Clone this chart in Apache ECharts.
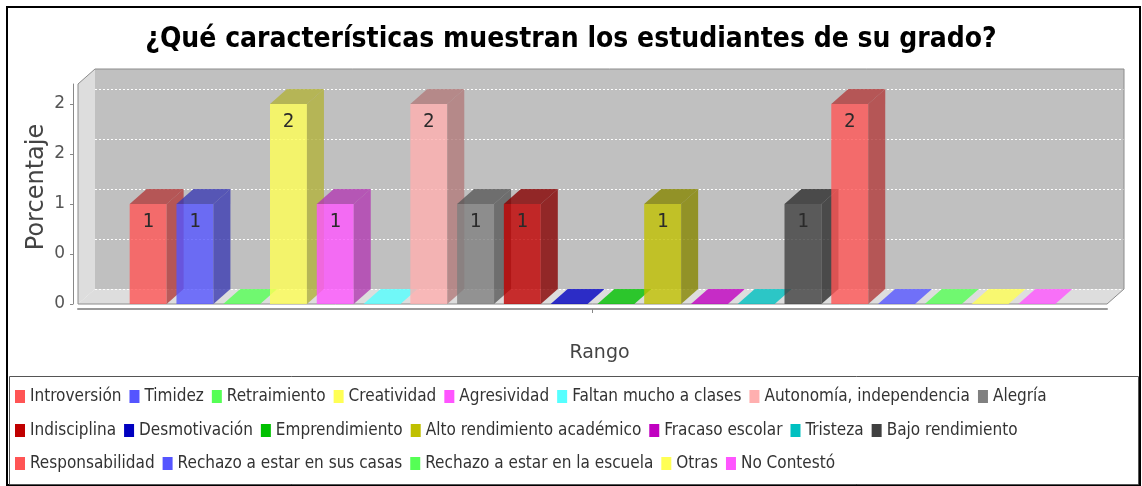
<!DOCTYPE html>
<html>
<head>
<meta charset="utf-8">
<title>¿Qué características muestran los estudiantes de su grado?</title>
<script src="https://cdn.jsdelivr.net/npm/echarts@6/dist/echarts.min.js"></script>
<style>
  html, body { margin: 0; padding: 0; background: #ffffff; }
  #chart { width: 1142px; height: 486px; }
</style>
</head>
<body>
<div id="chart"></div>
<script>
// Survey answers: one bar per characteristic
const categories = [
  'Introversión', 'Timidez', 'Retraimiento', 'Creatividad', 'Agresividad',
  'Faltan mucho a clases', 'Autonomía, independencia', 'Alegría',
  'Indisciplina', 'Desmotivación', 'Emprendimiento', 'Alto rendimiento académico',
  'Fracaso escolar', 'Tristeza', 'Bajo rendimiento',
  'Responsabilidad', 'Rechazo a estar en sus casas', 'Rechazo a estar en la escuela',
  'Otras', 'No Contestó'
];
const values = [1, 1, 0, 2, 1, 0, 2, 1, 1, 0, 0, 1, 0, 0, 1, 2, 0, 0, 0, 0];
const colors = [
  '#FF5555', '#5555FF', '#55FF55', '#FFFF55', '#FF55FF', '#55FFFF', '#FFAFAF', '#808080',
  '#C00000', '#0000C0', '#00C000', '#C0C000', '#C000C0', '#00C0C0', '#404040',
  '#FF5555', '#5555FF', '#55FF55', '#FFFF55', '#FF55FF'
];
// value-axis ticks and the (integer-rounded) labels printed beside them
const yTicks = [0, 0.5, 1, 1.5, 2];
const yTickLabels = ['0', '0', '1', '2', '2'];
// legend rows: first and last category index of each row
const legendRows = [[0, 7], [8, 14], [15, 19]];

// 3D look: depth offset of the back plane, bar width in category units
const DX = 17, DY = -15;
const BAR_W = 0.79;
const ALPHA = 0.8;

function shade(hex, factor, alpha) {
  const n = parseInt(hex.slice(1), 16);
  const r = Math.floor(((n >> 16) & 255) * factor);
  const g = Math.floor(((n >> 8) & 255) * factor);
  const b = Math.floor((n & 255) * factor);
  return 'rgba(' + r + ',' + g + ',' + b + ',' + alpha + ')';
}

// back wall, side wall, floor and the dashed grid lines on the back wall
function renderWalls(params, api) {
  const cs = params.coordSys;
  const L = cs.x, R = cs.x + cs.width, T = cs.y, B = cs.y + cs.height;
  const children = [];
  children.push({ type: 'rect', shape: { x: L + DX, y: T + DY, width: R - L, height: B - T }, style: { fill: '#C0C0C0' } });
  children.push({ type: 'polygon', shape: { points: [[L, T], [L + DX, T + DY], [L + DX, B + DY], [L, B]] }, style: { fill: '#DDDDDD' } });
  children.push({ type: 'polygon', shape: { points: [[L, B], [L + DX, B + DY], [R + DX, B + DY], [R, B]] }, style: { fill: '#DDDDDD' } });
  yTicks.forEach(function (t) {
    const y = Math.round(api.coord([-1.5, t])[1] + DY) + 0.5;
    children.push({ type: 'line', shape: { x1: L + DX, y1: y, x2: R + DX, y2: y }, style: { stroke: '#FFFFFF', lineWidth: 1, lineDash: [2, 2] } });
  });
  children.push({
    type: 'polyline',
    shape: { points: [[L, B], [L, T], [L + DX, T + DY], [R + DX, T + DY], [R + DX, B + DY], [R, B], [L, B]] },
    style: { fill: 'none', stroke: '#8C8C8C', lineWidth: 1 }
  });
  return { type: 'group', children: children };
}

// one 3D bar: front face, right side, top face and the value label
function renderBar(params, api) {
  const i = api.value(0), v = api.value(1);
  const base = api.coord([i, 0]);
  const top = api.coord([i, v]);
  const w = api.size([BAR_W, 0])[0];
  const x0 = base[0] - w / 2, x1 = x0 + w;
  const yb = base[1], yt = top[1];
  const c = colors[i];
  const frontFill = shade(c, 1, ALPHA);
  const faceFill = v > 0 ? shade(c, 0.7, ALPHA) : frontFill;
  const children = [];
  if (v > 0) {
    children.push({ type: 'rect', shape: { x: x0, y: yt, width: w, height: yb - yt }, style: { fill: frontFill } });
    children.push({ type: 'polygon', shape: { points: [[x1, yt], [x1 + DX, yt + DY], [x1 + DX, yb + DY], [x1, yb]] }, style: { fill: faceFill } });
  }
  children.push({ type: 'polygon', shape: { points: [[x0, yt], [x0 + DX, yt + DY], [x1 + DX, yt + DY], [x1, yt]] }, style: { fill: faceFill } });
  if (v > 0) {
    children.push({
      type: 'text',
      style: {
        text: String(v), x: (x0 + x1) / 2, y: yt + 18, align: 'center', verticalAlign: 'middle',
        font: '19px "DejaVu Sans Mono", monospace', fill: '#2A2A2A'
      }
    });
  }
  return { type: 'group', children: children };
}

const series = [{
  type: 'custom', name: '_walls', silent: true, z: 1,
  xAxisIndex: 0, yAxisIndex: 0,
  label: { show: false }, labelLine: { show: false },
  data: [[-1.5, 0]], renderItem: renderWalls
}];
categories.forEach(function (name, i) {
  series.push({
    type: 'custom', name: name, silent: true, z: 2 + i,
    xAxisIndex: 0, yAxisIndex: 0,
    label: { show: false },
    itemStyle: { color: colors[i] },
    data: [[i, values[i]]],
    renderItem: renderBar
  });
});

const legendTops = [388, 422, 455];
const legends = legendRows.map(function (row, r) {
  return {
    data: categories.slice(row[0], row[1] + 1),
    left: 15, top: legendTops[r], orient: 'horizontal',
    icon: 'rect', itemWidth: 10, itemHeight: 13, itemGap: 8, padding: 0,
    selectedMode: false,
    textStyle: { fontFamily: '"DejaVu Sans Condensed", "DejaVu Sans", sans-serif', fontSize: 17, color: '#333333' }
  };
});

const chart = echarts.init(document.getElementById('chart'), null, { renderer: 'canvas' });
chart.setOption({
  backgroundColor: '#FFFFFF',
  animation: false,
  title: {
    text: '¿Qué características muestran los estudiantes de su grado?',
    left: 'center', top: 21,
    textStyle: { fontFamily: '"DejaVu Sans Condensed", "DejaVu Sans", sans-serif', fontWeight: 'bold', fontSize: 28, color: '#000000' }
  },
  legend: legends,
  grid: { left: 78, right: 35, top: 84, bottom: 182, containLabel: false },
  xAxis: [
    {
      type: 'value', position: 'top', min: -1.5, max: 20.5, show: false,
      axisLine: { show: false, onZero: false }, axisTick: { show: false }, axisLabel: { show: false }, splitLine: { show: false }
    },
    {
      type: 'category', position: 'bottom', data: [''], offset: 5,
      axisLine: { show: true, onZero: false, lineStyle: { color: '#9A9A9A', width: 2 } },
      axisTick: { show: true, alignWithLabel: true, length: 4, lineStyle: { color: '#888888' } },
      axisLabel: { show: false },
      splitLine: { show: false },
      name: 'Rango', nameLocation: 'middle', nameGap: 35, nameMoveOverlap: false,
      nameTextStyle: { fontFamily: '"DejaVu Sans", sans-serif', fontSize: 19, color: '#444444', padding: [0, 0, 0, 14] }
    }
  ],
  yAxis: {
    type: 'value', min: 0, max: 2.2, interval: 0.5, offset: 5,
    axisLine: { show: true, onZero: false, lineStyle: { color: '#888888' } },
    axisTick: { show: true, length: 3, customValues: yTicks, lineStyle: { color: '#888888' } },
    splitLine: { show: false },
    axisLabel: {
      customValues: yTicks, margin: 8,
      formatter: function (val) {
        for (let k = 0; k < yTicks.length; k++) {
          if (Math.abs(yTicks[k] - val) < 1e-6) return yTickLabels[k];
        }
        return '';
      },
      fontFamily: '"DejaVu Sans", sans-serif', fontSize: 17, color: '#555555'
    },
    name: 'Porcentaje', nameLocation: 'middle', nameRotate: 90, nameGap: 24, nameMoveOverlap: false,
    nameTextStyle: { fontFamily: '"DejaVu Sans", sans-serif', fontSize: 24, color: '#444444', padding: [0, 0, 0, 14] }
  },
  graphic: [
    { type: 'rect', shape: { x: 7, y: 7, width: 1133, height: 478 }, style: { fill: 'none', stroke: '#000000', lineWidth: 2 }, silent: true, z: 100 },
    { type: 'rect', shape: { x: 9.5, y: 376.5, width: 1129, height: 108 }, style: { fill: 'none', stroke: '#555555', lineWidth: 1 }, silent: true, z: 100 }
  ],
  series: series
});
</script>
</body>
</html>
